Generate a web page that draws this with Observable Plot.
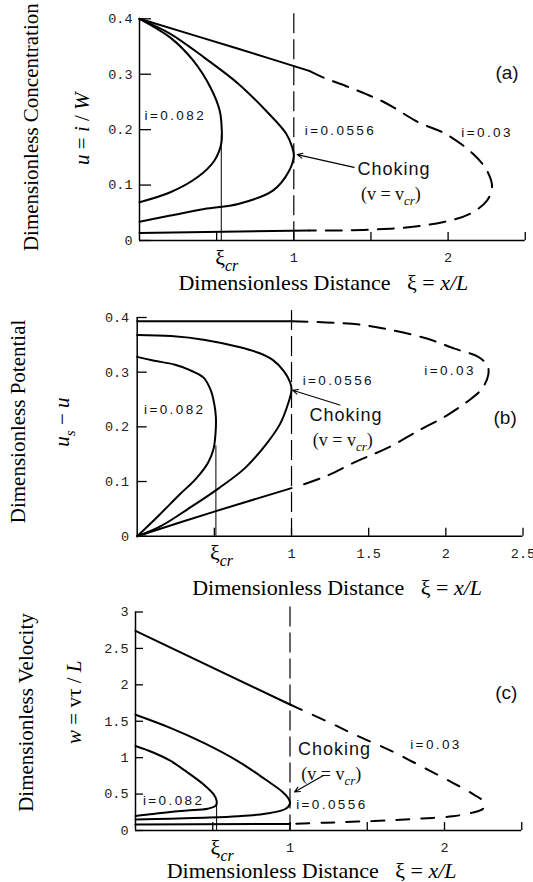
<!DOCTYPE html>
<html><head><meta charset="utf-8">
<script src="https://cdn.jsdelivr.net/npm/d3@7"></script>
<script src="https://cdn.jsdelivr.net/npm/@observablehq/plot@0.6"></script>
<style>
html,body{margin:0;padding:0;background:#fff;}
#chart{position:relative;width:533px;height:882px;overflow:hidden;background:#fff;}
#chart svg{position:absolute;left:0;overflow:visible;}
#chart text{white-space:pre;}
</style></head><body><div id="chart"></div>
<script>
// ---------- data (ξ, value) ----------
// Panel (a): dimensionless concentration u = i/W
const a_i082 = [[0,0.4],[0.2,0.366],[0.35,0.324],[0.46,0.276],[0.52,0.234],[0.533,0.2],[0.53,0.175],[0.485,0.144],[0.375,0.114],[0.2,0.087],[0,0.069]];
const a_i0556 = [[0,0.4],[0.2,0.373],[0.42,0.33],[0.64,0.283],[0.82,0.234],[0.95,0.193],[0.99,0.168],[1.0,0.153],[0.97,0.126],[0.864,0.09],[0.64,0.066],[0.42,0.057],[0.2,0.045],[0,0.034]];
const a_i03_upper = [[0,0.4],[0.64,0.346],[1.1,0.306]];
const a_i03_dashed = [[1.1,0.306],[1.192,0.294],[1.391,0.273],[1.589,0.249],[1.81,0.213],[1.987,0.192],[2.163,0.156],[2.252,0.126],[2.285,0.096],[2.252,0.072],[2.141,0.048],[1.965,0.033],[1.744,0.024],[1.523,0.02],[1.302,0.018],[1.1,0.018]];
const a_i03_lower = [[1.1,0.018],[0,0.0135]];
const a_xiCr = 0.53, a_xiCrTop = 0.19;

// Panel (b): dimensionless potential us - u
const b_i082 = [[0,0.328],[0.11,0.321],[0.24,0.314],[0.33,0.305],[0.43,0.29],[0.478,0.266],[0.5,0.241],[0.51,0.217],[0.508,0.19],[0.495,0.16],[0.46,0.135],[0.38,0.105],[0.27,0.075],[0.14,0.038],[0,0]];
const b_i0556 = [[0,0.368],[0.22,0.366],[0.44,0.359],[0.66,0.346],[0.79,0.335],[0.88,0.322],[0.95,0.302],[0.99,0.282],[1.0,0.268],[0.975,0.24],[0.925,0.205],[0.835,0.168],[0.7,0.125],[0.53,0.088],[0.33,0.05],[0.15,0.018],[0,0]];
const b_i03_upper = [[0,0.393],[1,0.393]];
const b_i03_dashed = [[1,0.393],[1.225,0.391],[1.444,0.387],[1.663,0.376],[1.882,0.361],[2.057,0.343],[2.21,0.328],[2.27,0.312],[2.275,0.295],[2.235,0.27],[2.166,0.252],[2.013,0.222],[1.816,0.192],[1.619,0.161],[1.422,0.137],[1.225,0.11],[1.028,0.09]];
const b_i03_lower = [[1,0.088],[0.5,0.045],[0,0]];
const b_xiCr = 0.51, b_xiCrTop = 0.165;

// Panel (c): dimensionless velocity w = vτ/L
const c_i082 = [[0,1.16],[0.115,1.071],[0.225,0.958],[0.335,0.8],[0.445,0.625],[0.505,0.5],[0.525,0.41],[0.52,0.34],[0.467,0.3],[0.335,0.275],[0.225,0.255],[0.115,0.225],[0,0.2]];
const c_i0556 = [[0,1.59],[0.225,1.41],[0.445,1.2],[0.665,0.95],[0.841,0.7],[0.952,0.53],[0.99,0.44],[1.0,0.37],[0.97,0.295],[0.84,0.23],[0.665,0.195],[0.445,0.175],[0.225,0.163],[0,0.15]];
const c_i03_upper = [[0,2.74],[1,1.73]];
const c_i03_dashed = [[1,1.73],[1.238,1.5],[1.436,1.3],[1.634,1.115],[1.833,0.9],[2.031,0.68],[2.185,0.5],[2.26,0.38],[2.25,0.3],[2.18,0.245],[2.053,0.195],[1.855,0.165],[1.656,0.14],[1.436,0.122],[1.238,0.108],[1.04,0.094],[1,0.09]];
const c_i03_lower = [[1,0.09],[0,0.082]];
const c_xiCr = 0.525, c_xiCrTop = 0.34;

// tick values / labels
const xTickMarks = [0.5, 1, 1.5, 2, 2.5];
const xLabelsAC = [1, 2];
const xLabelsB = [1, 1.5, 2, 2.5];
const yTicksAB = [0, 0.1, 0.2, 0.3, 0.4];
const yTicksC = [0, 0.5, 1, 1.5, 2, 2.5, 3];

// annotations (data coordinates)
const notesA = [
  {x:0.033, y:0.226, text:"i=0.082", kind:"i"},
  {x:1.071, y:0.198, text:"i=0.0556", kind:"i"},
  {x:2.086, y:0.195, text:"i=0.03", kind:"i"},
  {x:2.307, y:0.303, text:"(a)", kind:"panel"},
  {x:1.413, y:0.129, text:"Choking", kind:"choke"},
  {x:1.435, y:0.084, text:"(v = vcr)", kind:"v"}
];
const arrowA = [{x1:1.391, y1:0.132, x2:1.022, y2:0.155}];
const notesB = [
  {x:0.044, y:0.231, text:"i=0.082", kind:"i"},
  {x:1.072, y:0.285, text:"i=0.0556", kind:"i"},
  {x:1.86, y:0.302, text:"i=0.03", kind:"i"},
  {x:2.309, y:0.216, text:"(b)", kind:"panel"},
  {x:1.116, y:0.222, text:"Choking", kind:"choke"},
  {x:1.138, y:0.176, text:"(v = vcr)", kind:"v"}
];
const arrowB = [{x1:1.313, y1:0.240, x2:1.007, y2:0.267}];
const notesC = [
  {x:2.328, y:1.884, text:"(c)", kind:"panel"},
  {x:1.778, y:1.184, text:"i=0.03", kind:"i"},
  {x:1.051, y:1.116, text:"Choking", kind:"choke"},
  {x:1.073, y:0.777, text:"(v = vcr)", kind:"v"},
  {x:0.048, y:0.416, text:"i=0.082", kind:"i"},
  {x:1.04, y:0.348, text:"i=0.0556", kind:"i"}
];
const arrowC = [{x1:1.216, y1:0.755, x2:1.029, y2:0.529}];

const xTitle = "Dimensionless Distance   ξ = x/L";

// ---------- rendering ----------
const SERIF = "'Liberation Serif','Times New Roman',serif";
const SANS = "'Liberation Sans',Arial,sans-serif";
const MONO = "'Liberation Mono','Courier New',monospace";
const kindStyle = {
  i: {fontFamily: SANS, fontSize: 13.5},
  choke: {fontFamily: SANS, fontSize: 18},
  panel: {fontFamily: SANS, fontSize: 19},
  v: {fontFamily: SERIF, fontSize: 18}
};

const RICH = {
  "ξcr": [["ξ"],["cr","is"]],
  "(v = vcr)": [["(v = v"],["cr","is"],[")"]],
  [xTitle]: [["Dimensionless Distance   ξ = "],["x/L","i"]],
  "u = i / W": [["u","i"],[" = "],["i","i"],[" / "],["W","i"]],
  "us − u": [["u","i"],["s","is"],[" − "],["u","i"]],
  "w = vτ / L": [["w","i"],[" = vτ / "],["L","i"]]
};

function panel(cfg) {
  const P = (d) => d;
  const plotW = 533 - cfg.ml - cfg.mr;
  const plotH = cfg.height - cfg.mt - cfg.mb;
  const xPerPx = 2.5 / plotW;
  const yPerPx = (cfg.yDomain[1] - cfg.yDomain[0]) / plotH;
  const lines = cfg.series.map(s => Plot.line(s.data, {
    x: d => d[0], y: d => d[1], curve: "catmull-rom", strokeWidth: 2,
    strokeDasharray: s.dashed ? cfg.dash : null
  }));
  const noteMarks = Object.keys(kindStyle).map(k => Plot.text(cfg.notes.filter(n => n.kind === k), {
    x: "x", y: "y", text: "text", textAnchor: "start", lineAnchor: "middle", fill: "#111", ...kindStyle[k]
  }));
  return Plot.plot({
    width: 533, height: cfg.height,
    marginLeft: cfg.ml, marginRight: cfg.mr, marginTop: cfg.mt, marginBottom: cfg.mb,
    x: {domain: [0, 2.5]},
    y: {domain: cfg.yDomain},
    style: {fontFamily: MONO, fontSize: "13.5px", background: "transparent", overflow: "visible"},
    marks: [
      // inward tick marks
      Plot.ruleY(cfg.yTicks, {y: P, x1: 0, x2: cfg.yTickLen * xPerPx, strokeWidth: 1.3}),
      Plot.ruleX(xTickMarks, {x: P, y1: cfg.yDomain[0], y2: cfg.yDomain[0] + 8 * yPerPx, strokeWidth: 1.3}),
      // tick labels
      Plot.axisY(cfg.yTicks, {tickSize: 0, tickPadding: cfg.yPad, tickFormat: cfg.yFmt, fill: "#222", label: null}),
      Plot.axisX(cfg.xLabels, {tickSize: 0, tickPadding: 12, tickFormat: d => String(d), fill: "#222", label: null}),
      // axis lines
      Plot.ruleY([cfg.yDomain[0]], {strokeWidth: 1.5}),
      Plot.ruleX([0], {strokeWidth: 1.5}),
      // choking location and critical distance
      Plot.ruleX([1], {strokeDasharray: "20,6", strokeWidth: 1.2, insetTop: -cfg.dashTop}),
      Plot.ruleX([cfg.xcr], {y1: cfg.yDomain[0], y2: cfg.xcrTop, strokeWidth: 1}),
      ...lines,
      ...noteMarks,
      Plot.arrow(cfg.arrow, {x1: "x1", y1: "y1", x2: "x2", y2: "y2", headLength: 8, headAngle: 50, strokeWidth: 1.1}),
      Plot.text([cfg.xcr], {x: P, frameAnchor: "bottom", lineAnchor: "middle", dy: cfg.xcrDy, dx: -6, textAnchor: "start", text: () => "ξcr", fontFamily: SERIF, fontSize: 22}),
      Plot.text([xTitle], {text: P, frameAnchor: "bottom", lineAnchor: "middle", textAnchor: "middle", dx: cfg.xtDx, dy: cfg.xtDy, fontFamily: SERIF, fontSize: 22}),
      Plot.text([cfg.ytitle], {text: P, frameAnchor: "left", textAnchor: "middle", lineAnchor: "middle", rotate: -90, dx: cfg.ytDx, dy: cfg.ytDy, fontFamily: SERIF, fontSize: 21}),
      Plot.text([cfg.ysub], {text: P, frameAnchor: "left", textAnchor: "middle", lineAnchor: "middle", rotate: -90, dx: cfg.ysDx, dy: cfg.ysDy, fontFamily: SERIF, fontSize: 21})
    ]
  });
}

function richify(svg) {
  d3.select(svg).selectAll("text").each(function () {
    const key = this.textContent;
    if (/^i=/.test(key)) d3.select(this).attr("letter-spacing", "2.4px");
    if (key === "Choking") d3.select(this).attr("letter-spacing", "1px");
    const segs = RICH[key];
    if (!segs) return;
    const fs = parseFloat(getComputedStyle(this).fontSize) || 20;
    const el = d3.select(this);
    el.text(null);
    let shift = 0;
    for (const [t, f] of segs) {
      const ts = el.append("tspan").text(t);
      const italic = f && f.includes("i");
      const sub = f && f.includes("s");
      if (italic) ts.attr("font-style", "italic");
      const target = sub ? fs * 0.28 : 0;
      if (sub) ts.attr("font-size", (fs * 0.72) + "px");
      if (target - shift !== 0) ts.attr("dy", target - shift);
      shift = target;
    }
  });
}

const yFmtAB = d => d === 0 ? "0" : d.toFixed(1);
const panels = [
  {top: 0, cfg: {
    height: 292, ml: 139, mr: 8.25, mt: 18.3, mb: 52, yDomain: [0, 0.4], yTicks: yTicksAB, yFmt: yFmtAB,
    yTickLen: 12, yPad: 7, xLabels: xLabelsAC, dashTop: 5, dash: "16,10",
    xcr: a_xiCr, xcrTop: a_xiCrTop, xcrDy: 17,
    series: [{data: a_i082}, {data: a_i0556}, {data: a_i03_upper}, {data: a_i03_lower}, {data: a_i03_dashed, dashed: true}],
    notes: notesA, arrow: arrowA,
    xtDx: -9, xtDy: 42, ytitle: "Dimensionless Concentration", ytDx: -108, ytDy: -2.5,
    ysub: "u = i / W", ysDx: -57, ysDy: -1
  }},
  {top: 292, cfg: {
    height: 308, ml: 136.7, mr: 10.5, mt: 25, mb: 64.3, yDomain: [0, 0.4], yTicks: yTicksAB, yFmt: yFmtAB,
    yTickLen: 10, yPad: 8, xLabels: xLabelsB, dashTop: 7, dash: "16,10",
    xcr: b_xiCr, xcrTop: b_xiCrTop, xcrDy: 17,
    series: [{data: b_i082}, {data: b_i0556}, {data: b_i03_upper}, {data: b_i03_lower}, {data: b_i03_dashed, dashed: true}],
    notes: notesB, arrow: arrowB,
    xtDx: 7, xtDy: 52, ytitle: "Dimensionless Potential", ytDx: -119, ytDy: -5.4,
    ysub: "us − u", ysDx: -75, ysDy: -4.7
  }},
  {top: 600, cfg: {
    height: 282, ml: 135, mr: 11.75, mt: 11.5, mb: 52, yDomain: [0, 3], yTicks: yTicksC, yFmt: d => String(d),
    yTickLen: 8, yPad: 7, xLabels: xLabelsAC, dashTop: 5, dash: "13,12",
    xcr: c_xiCr, xcrTop: c_xiCrTop, xcrDy: 17,
    series: [{data: c_i082}, {data: c_i0556}, {data: c_i03_upper}, {data: c_i03_lower}, {data: c_i03_dashed, dashed: true}],
    notes: notesC, arrow: arrowC,
    xtDx: -17, xtDy: 40, ytitle: "Dimensionless Velocity", ytDx: -109, ytDy: -8.7,
    ysub: "w = vτ / L", ysDx: -61.5, ysDy: -19
  }}
];

const root = document.getElementById("chart");
for (const p of panels) {
  const svg = panel(p.cfg);
  svg.style.top = p.top + "px";
  root.appendChild(svg);
  richify(svg);
}
</script></body></html>
